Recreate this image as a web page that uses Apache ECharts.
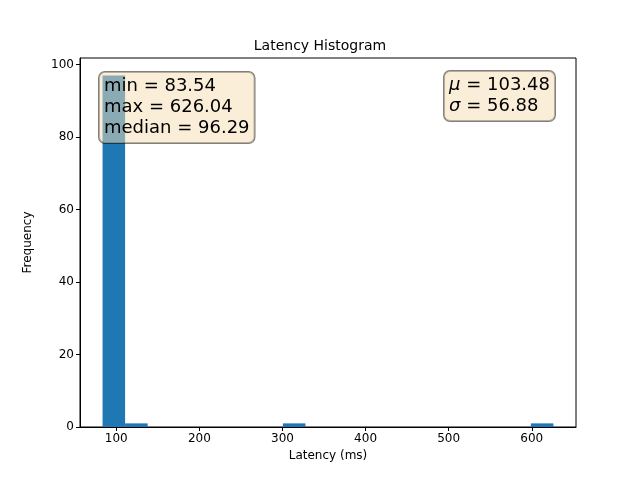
<!DOCTYPE html>
<html><head><meta charset="utf-8">
<script src="https://cdn.jsdelivr.net/npm/echarts@6/dist/echarts.min.js"></script>
<style>html,body{margin:0;padding:0;background:#fff}#c{width:640px;height:480px}</style>
</head><body><div id="c"></div>
<script>
const dataMin = 83.54, dataMax = 626.04;
const counts = [97,1,0,0,0,0,0,0,1,0,0,0,0,0,0,0,0,0,0,1];
const xTicks = [100,200,300,400,500,600];
const yTicks = [0,20,40,60,80,100];
const statsLeft = ['min = 83.54','max = 626.04','median = 96.29'];
const mu = '103.48', sigma = '56.88';

const w = (dataMax - dataMin) / counts.length;
const bins = counts.map((c,i)=>[dataMin+i*w, dataMin+(i+1)*w, c]);
const chart = echarts.init(document.getElementById('c'));
const font = 'DejaVu Sans';
const boxStyle = {backgroundColor:'rgba(245,222,179,0.5)',borderColor:'rgba(0,0,0,0.5)',borderWidth:1,borderRadius:6,padding:[4,5,4,5],fontSize:18,fontFamily:font,lineHeight:21,fill:'#000'};
chart.setOption({
  animation:false,
  textStyle:{fontFamily:font},
  title:{text:'Latency Histogram',left:'center',top:34,textStyle:{fontSize:14,fontWeight:'normal',color:'#000',fontFamily:font}},
  grid:{left:80,right:64,top:58,bottom:53,show:true,borderColor:'#000',borderWidth:1},
  xAxis:{type:'value',min:56.4,max:653.2,name:'Latency (ms)',nameLocation:'middle',nameGap:22,
    nameTextStyle:{fontSize:12,color:'#000'},
    axisLine:{lineStyle:{color:'#000'}},splitLine:{show:false},
    axisTick:{show:true,customValues:xTicks,length:4,lineStyle:{color:'#000'}},
    axisLabel:{customValues:xTicks,color:'#000',fontSize:12,margin:6}},
  yAxis:{type:'value',min:0,max:101.85,name:'Frequency',nameLocation:'middle',nameGap:46,
    nameTextStyle:{fontSize:12,color:'#000'},
    axisLine:{show:true,lineStyle:{color:'#000'}},splitLine:{show:false},
    axisTick:{show:true,customValues:yTicks,length:4,lineStyle:{color:'#000'}},
    axisLabel:{customValues:yTicks,color:'#000',fontSize:12,margin:6}},
  series:[{type:'custom',data:bins,renderItem:function(params,api){
    const p0=api.coord([api.value(0),api.value(2)]);
    const p1=api.coord([api.value(1),0]);
    return {type:'rect',shape:{x:p0[0],y:p0[1],width:p1[0]-p0[0],height:p1[1]-p0[1]},style:{fill:'#1f77b4'}};
  }}],
  graphic:[
    {type:'text',left:98,top:71,z:100,style:Object.assign({},boxStyle,{text:statsLeft.join('\n'),align:'left'})},
    {type:'text',right:84,top:70,z:100,style:Object.assign({},boxStyle,{
      text:'{i|μ} = '+mu+'\n{i|σ} = '+sigma,align:'right',
      rich:{i:{fontStyle:'italic',fontSize:18,fontFamily:font}}})}
  ]
});
</script></body></html>
